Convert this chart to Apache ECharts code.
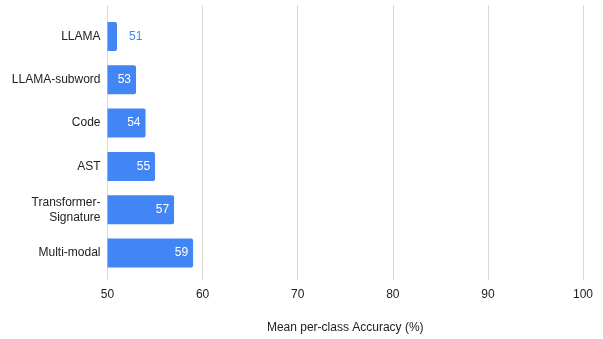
<!DOCTYPE html>
<html><head><meta charset="utf-8">
<script src="https://cdn.jsdelivr.net/npm/echarts@6/dist/echarts.min.js"></script>
<style>html,body{margin:0;padding:0;background:#fff}#c{width:603px;height:339px}</style>
</head><body><div id="c"></div>
<script>
const categories = ["LLAMA", "LLAMA-subword", "Code", "AST", "Transformer-\nSignature", "Multi-modal"];
const values = [51, 53, 54, 55, 57, 59];
const xTicks = [50, 60, 70, 80, 90, 100];
const xName = "Mean per-class Accuracy (%)";

const font = "Liberation Sans, Arial, sans-serif";
const blue = "#4285F4";
const chart = echarts.init(document.getElementById('c'), null, {renderer: 'canvas'});
chart.setOption({
  animation: false,
  grid: [
    {left: 107.5, right: 20, top: 5, bottom: 55},
    {left: 107.5, right: 20, top: 14.8, bottom: 64.3}
  ],
  xAxis: [
    {gridIndex: 0, type: 'value', min: xTicks[0], max: xTicks[xTicks.length-1], interval: 10,
     axisLine: {show: false}, axisTick: {show: false},
     splitLine: {show: true, lineStyle: {color: '#d9d9d9', width: 1}},
     axisLabel: {color: '#222', fontFamily: font, fontSize: 12, margin: 9},
     name: xName, nameLocation: 'middle', nameGap: 42,
     nameTextStyle: {color: '#222', fontFamily: font, fontSize: 12}},
    {gridIndex: 1, type: 'value', min: xTicks[0], max: xTicks[xTicks.length-1], interval: 10,
     show: false, splitLine: {show: false}}
  ],
  yAxis: [
    {gridIndex: 0, type: 'category', data: categories, show: false},
    {gridIndex: 1, type: 'category', data: categories, inverse: true,
     axisLine: {show: false}, axisTick: {show: false}, splitLine: {show: false},
     axisLabel: {color: '#222', fontFamily: font, fontSize: 12, margin: 7, lineHeight: 15}}
  ],
  series: [{
    type: 'bar', xAxisIndex: 1, yAxisIndex: 1,
    data: values.map((v, i) => ({
      value: v,
      label: i === 0 ? {position: 'right', distance: 12, color: blue} : {}
    })),
    barWidth: '67%',
    itemStyle: {color: blue, borderRadius: [0, 2, 2, 0]},
    label: {show: true, position: 'insideRight', distance: 5, color: '#fff',
            fontFamily: font, fontSize: 12}
  }]
});
</script></body></html>
